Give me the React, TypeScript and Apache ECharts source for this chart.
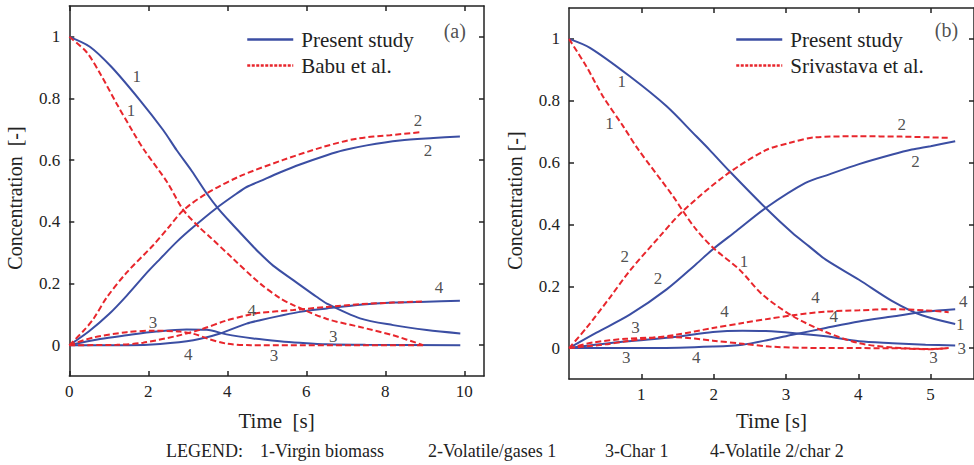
import React, { useEffect, useRef } from "react";
import * as echarts from "echarts";

const FONT = "'Liberation Serif', 'Times New Roman', serif";
const BLUE = "#3b4ea3";
const RED = "#e8262c";
const INK = "#222";

// ---------- Panel (a): Babu et al. comparison ----------
const aXTicks = [0, 2, 4, 6, 8, 10];
const yTicks = [0, 0.2, 0.4, 0.6, 0.8, 1];

const aPresent1 = [[0, 1], [0.52, 0.968], [1.07, 0.902], [1.79, 0.794], [2.38, 0.697], [2.72, 0.632], [3.1, 0.565], [3.48, 0.492], [3.77, 0.443], [4.15, 0.389], [4.66, 0.319], [4.83, 0.297], [5.16, 0.258], [5.67, 0.211], [6.26, 0.157], [6.52, 0.135], [7.36, 0.087], [8.2, 0.065], [9.05, 0.049], [9.9, 0.038]];
const aPresent2 = [[0, 0], [0.5, 0.045], [1.0, 0.1], [1.45, 0.16], [2.0, 0.24], [2.3, 0.28], [2.72, 0.335], [3.14, 0.383], [3.73, 0.445], [4.24, 0.492], [4.49, 0.513], [4.83, 0.532], [5.33, 0.56], [5.84, 0.586], [6.52, 0.616], [6.94, 0.632], [7.53, 0.648], [8.37, 0.664], [9.22, 0.672], [9.89, 0.677]];
const aPresent3 = [[0, 0], [0.78, 0.02], [1.45, 0.032], [2.2, 0.044], [2.97, 0.051], [3.48, 0.05], [3.98, 0.035], [4.66, 0.022], [5.33, 0.013], [5.84, 0.008], [6.52, 0.003], [7.5, 0.001], [9.9, 0]];
const aPresent4 = [[0, 0], [1.5, 0], [2.3, 0.004], [3.14, 0.016], [3.82, 0.038], [4.49, 0.07], [4.83, 0.081], [5.33, 0.095], [5.84, 0.108], [6.52, 0.119], [7.36, 0.131], [8.2, 0.138], [9.05, 0.141], [9.89, 0.144]];

const aBabu1 = [[0, 1], [0.44, 0.95], [0.78, 0.881], [1.2, 0.783], [1.62, 0.69], [1.9, 0.632], [2.47, 0.53], [2.89, 0.438], [3.31, 0.38], [3.56, 0.351], [4.15, 0.28], [4.83, 0.2], [5.33, 0.153], [5.67, 0.13], [6.52, 0.085], [7.36, 0.059], [8.2, 0.032], [8.96, 0.0]];
const aBabu2 = [[0, 0], [0.35, 0.045], [0.61, 0.085], [0.95, 0.155], [1.45, 0.235], [2.13, 0.325], [2.5, 0.38], [2.89, 0.438], [3.48, 0.492], [4.32, 0.548], [5.4, 0.6], [6.43, 0.643], [7.28, 0.67], [8.12, 0.681], [8.92, 0.691]];
const aBabu3 = [[0, 0], [0.61, 0.025], [1.45, 0.042], [2.13, 0.047], [2.8, 0.044], [3.2, 0.035], [3.48, 0.022], [3.98, 0.005], [4.6, 0], [8.96, 0]];
const aBabu4 = [[0, 0], [1.2, 0.001], [1.87, 0.008], [2.72, 0.03], [3.31, 0.05], [3.98, 0.08], [4.5, 0.097], [4.83, 0.105], [5.67, 0.114], [6.52, 0.124], [7.36, 0.133], [8.2, 0.138], [8.96, 0.142]];

const aNotes = [
  ["1", 1.71, 0.872], ["1", 1.56, 0.762], ["2", 8.83, 0.729], ["2", 9.08, 0.632],
  ["4", 9.36, 0.188], ["4", 4.62, 0.113], ["3", 2.12, 0.075], ["4", 3.01, -0.029],
  ["3", 6.68, 0.029], ["3", 5.18, -0.032], ["(a)", 9.76, 1.02],
];

// ---------- Panel (b): Srivastava et al. comparison ----------
const bXTicks = [1, 2, 3, 4, 5];

const bPresent1 = [[0, 1], [0.29, 0.971], [0.84, 0.879], [1.35, 0.782], [1.76, 0.685], [1.94, 0.642], [2.22, 0.572], [2.72, 0.453], [3.09, 0.372], [3.32, 0.329], [3.55, 0.286], [4.01, 0.221], [4.47, 0.152], [4.88, 0.106], [5.34, 0.078]];
const bPresent2 = [[0, 0], [0.38, 0.05], [0.84, 0.108], [1.35, 0.19], [1.76, 0.272], [1.99, 0.32], [2.31, 0.378], [2.72, 0.453], [3.27, 0.534], [3.6, 0.562], [4.01, 0.595], [4.47, 0.626], [4.74, 0.642], [5.0, 0.653], [5.34, 0.669]];
const bPresent3 = [[0, 0], [0.77, 0.021], [1.46, 0.036], [1.99, 0.052], [2.4, 0.056], [2.72, 0.055], [3.09, 0.049], [3.55, 0.038], [4.01, 0.022], [4.47, 0.016], [4.93, 0.011], [5.34, 0.008]];
const bPresent4 = [[0, 0], [1.2, 0], [1.99, 0.005], [2.4, 0.011], [2.77, 0.027], [3.09, 0.043], [3.55, 0.065], [4.01, 0.086], [4.47, 0.102], [4.93, 0.118], [5.34, 0.126]];

const bSriv1 = [[0, 1], [0.24, 0.911], [0.47, 0.814], [0.75, 0.717], [0.95, 0.645], [1.44, 0.491], [1.57, 0.445], [1.76, 0.383], [1.99, 0.325], [2.36, 0.253], [2.68, 0.172], [3.09, 0.104], [3.55, 0.052], [4.01, 0.016], [4.47, 0.002], [5.0, -0.003], [5.25, 0]];
const bSriv2 = [[0, 0], [0.24, 0.065], [0.57, 0.165], [0.84, 0.25], [1.25, 0.36], [1.57, 0.442], [2.17, 0.56], [2.72, 0.64], [3.04, 0.663], [3.41, 0.682], [4.0, 0.685], [4.6, 0.684], [5.25, 0.68]];
const bSriv3 = [[0, 0], [0.33, 0.018], [0.79, 0.03], [1.48, 0.035], [1.99, 0.024], [2.4, 0.014], [2.77, 0.005], [3.2, 0.001], [4.0, 0], [4.6, -0.001], [5.0, -0.004], [5.25, 0]];
const bSriv4 = [[0, 0], [0.5, 0.012], [0.79, 0.022], [1.48, 0.043], [1.99, 0.065], [2.4, 0.081], [2.77, 0.095], [3.09, 0.106], [3.55, 0.118], [4.01, 0.122], [4.47, 0.126], [4.93, 0.122], [5.25, 0.116]];

const bNotes = [
  ["1", 0.73, 0.863], ["1", 0.56, 0.728], ["2", 4.6, 0.723], ["2", 4.79, 0.604],
  ["2", 0.77, 0.296], ["2", 1.23, 0.226], ["1", 2.42, 0.28], ["4", 3.41, 0.162],
  ["4", 2.15, 0.118], ["4", 3.66, 0.102], ["3", 0.92, 0.065], ["3", 0.79, -0.032],
  ["4", 1.76, -0.032], ["4", 5.45, 0.151], ["1", 5.41, 0.075], ["3", 5.43, 0.0],
  ["3", 5.04, -0.032], ["(b)", 5.22, 1.03],
];

const bottomLegend = ["LEGEND:", "1-Virgin biomass", "2-Volatile/gases 1", "3-Char 1", "4-Volatile 2/char 2"];
const bottomLegendX = [166, 260, 428, 605, 710];

const axisLineStyle = { color: INK, width: 1.5 };

function xAxis(gridIndex: number, max: number, ticks: number[], position: string, showLabel: boolean, name?: string, nameGap?: number) {
  return {
    type: "value", gridIndex, min: 0, max, position,
    name: name || "", nameLocation: "middle", nameGap: nameGap || 0,
    nameTextStyle: { fontFamily: FONT, fontSize: 21, color: INK },
    axisLine: { show: true, onZero: false, lineStyle: axisLineStyle },
    axisTick: { show: true, inside: true, length: 5, customValues: ticks, lineStyle: axisLineStyle },
    axisLabel: { show: showLabel, customValues: ticks, margin: 7, fontFamily: FONT, fontSize: 17, color: INK },
    splitLine: { show: false },
  };
}

function yAxis(gridIndex: number, position: string, showLabel: boolean, name?: string) {
  return {
    type: "value", gridIndex, min: -0.1, max: 1.1, position,
    name: name || "", nameLocation: "middle", nameGap: 44,
    nameTextStyle: { fontFamily: FONT, fontSize: 20, color: INK, padding: [0, 14, 0, 0] },
    axisLine: { show: true, onZero: false, lineStyle: axisLineStyle },
    axisTick: { show: true, inside: true, length: 5, customValues: yTicks, lineStyle: axisLineStyle },
    axisLabel: {
      show: showLabel, customValues: yTicks, margin: 9, fontFamily: FONT, fontSize: 17, color: INK,
      formatter: (v: number) => String(Math.round(v * 10) / 10),
    },
    splitLine: { show: false },
  };
}

function line(name: string, data: number[][], xi: number, yi: number, dashed: boolean) {
  return {
    type: "line", name, data, xAxisIndex: xi, yAxisIndex: yi,
    showSymbol: false, symbol: "none", smooth: 0.3, silent: true,
    lineStyle: { color: dashed ? RED : BLUE, width: 2, type: dashed ? [6, 3] : "solid" },
    itemStyle: { color: dashed ? RED : BLUE },
    z: dashed ? 3 : 2,
  };
}

function notes(list: (string | number)[][], xi: number, yi: number) {
  return {
    type: "scatter", xAxisIndex: xi, yAxisIndex: yi, symbolSize: 1, silent: true,
    itemStyle: { color: "rgba(0,0,0,0)" },
    label: { show: true, position: "inside", formatter: "{b}", fontFamily: FONT, fontSize: 17, color: INK },
    data: list.map((n) => ({
      name: n[0] as string, value: [n[1], n[2]],
      label: (n[0] as string).length > 1 ? { fontSize: 20 } : undefined,
    })),
    z: 5,
  };
}

const hidden = { color: "rgba(0,0,0,0)", borderColor: "rgba(0,0,0,0)", borderWidth: 0, opacity: 0 };

function legend(left: number, names: string[]) {
  return {
    left, top: 24, orient: "vertical", itemWidth: 46, itemHeight: 14, itemGap: 5,
    selectedMode: false,
    textStyle: { fontFamily: FONT, fontSize: 21, color: INK, padding: [0, 0, 0, 3] },
    data: [
      { name: names[0], itemStyle: hidden, lineStyle: { color: BLUE, width: 2.5, type: "solid" } },
      { name: names[1], itemStyle: hidden, lineStyle: { color: RED, width: 2.5, type: [3, 1.5] } },
    ],
  };
}

export default function App() {
  const ref = useRef<HTMLDivElement>(null);
  useEffect(() => {
    if (!ref.current) return;
    const chart = echarts.init(ref.current, undefined, { renderer: "svg" });
    chart.setOption({
      animation: false,
      backgroundColor: "#fff",
      grid: [
        { left: 69.3, top: 6, width: 414.7, height: 370 },
        { left: 569, top: 8, width: 406.6, height: 371 },
      ],
      xAxis: [
        xAxis(0, 10.5, aXTicks, "bottom", true, "Time  [s]", 34),
        xAxis(0, 10.5, aXTicks, "top", false),
        xAxis(1, 5.6, bXTicks, "bottom", true, "Time [s]", 31),
        xAxis(1, 5.6, bXTicks, "top", false),
      ],
      yAxis: [
        yAxis(0, "left", true, "Concentration  [-]"),
        yAxis(0, "right", false),
        yAxis(1, "left", true, "Concentration [-]"),
        yAxis(1, "right", false),
      ],
      legend: [
        legend(241, ["Present study", "Babu et al."]),
        legend(730, ["Present study", "Srivastava et al."]),
      ],
      series: [
        line("Present study", aPresent1, 0, 0, false),
        line("Present study", aPresent2, 0, 0, false),
        line("Present study", aPresent3, 0, 0, false),
        line("Present study", aPresent4, 0, 0, false),
        line("Babu et al.", aBabu1, 0, 0, true),
        line("Babu et al.", aBabu2, 0, 0, true),
        line("Babu et al.", aBabu3, 0, 0, true),
        line("Babu et al.", aBabu4, 0, 0, true),
        notes(aNotes, 0, 0),
        line("Present study", bPresent1, 2, 2, false),
        line("Present study", bPresent2, 2, 2, false),
        line("Present study", bPresent3, 2, 2, false),
        line("Present study", bPresent4, 2, 2, false),
        line("Srivastava et al.", bSriv1, 2, 2, true),
        line("Srivastava et al.", bSriv2, 2, 2, true),
        line("Srivastava et al.", bSriv3, 2, 2, true),
        line("Srivastava et al.", bSriv4, 2, 2, true),
        notes(bNotes, 2, 2),
      ],
      graphic: bottomLegend.map((t, i) => ({
        type: "text", left: bottomLegendX[i], top: 442,
        style: { text: t, fontFamily: FONT, fontSize: 18, fill: INK },
      })),
    });
    return () => chart.dispose();
  }, []);
  return <div ref={ref} style={{ position: "fixed", left: 0, top: 0, width: 974, height: 465 }} />;
}
